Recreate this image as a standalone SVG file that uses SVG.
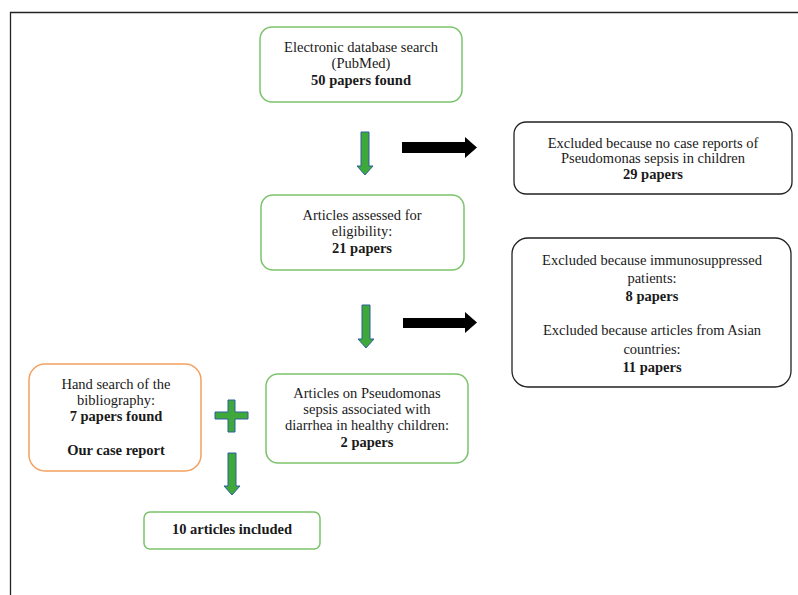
<svg xmlns="http://www.w3.org/2000/svg" width="798" height="595" viewBox="0 0 798 595">
<style>
text{font-family:"Liberation Serif","Times New Roman",serif;font-size:14.5px;fill:#1a1a1a;text-anchor:middle}
.b{font-weight:bold}
.g{fill:#fff;stroke:#7ac36a;stroke-width:1.5}
.o{fill:#fff;stroke:#f4a060;stroke-width:1.5}
.k{fill:#fff;stroke:#222;stroke-width:1.3}
.ga{fill:#3ea83a;stroke:#2e5f9e;stroke-width:1}
.ba{fill:#000}
</style>
<rect width="798" height="595" fill="#fff"/>
<path d="M10.5 595 V12.5 H798" fill="none" stroke="#222" stroke-width="1.3"/>
<g id="n1"><rect class="g" x="260" y="27" width="202" height="75" rx="12"/>
<text x="361" y="52">Electronic database search</text><text x="361" y="68">(PubMed)</text><text class="b" x="361" y="85">50 papers found</text></g>
<g id="n2"><rect class="k" x="514" y="122" width="278" height="72" rx="12"/>
<text x="653" y="148">Excluded because no case reports of</text><text x="653" y="163">Pseudomonas sepsis in children</text><text class="b" x="653" y="179">29 papers</text></g>
<g id="n3"><rect class="g" x="261" y="195" width="203" height="75" rx="12"/>
<text x="362" y="220">Articles assessed for</text><text x="362" y="236">eligibility:</text><text class="b" x="362" y="253">21 papers</text></g>
<g id="n4"><rect class="k" x="512" y="238" width="279" height="149" rx="16"/>
<text x="652" y="265">Excluded because immunosuppressed</text><text x="652" y="283">patients:</text><text class="b" x="652" y="301">8 papers</text>
<text x="652" y="335">Excluded because articles from Asian</text><text x="652" y="354">countries:</text><text class="b" x="652" y="372">11 papers</text></g>
<g id="n5"><rect class="o" x="29" y="364" width="172" height="107" rx="16"/>
<text x="116" y="389">Hand search of the</text><text x="116" y="405">bibliography:</text><text class="b" x="116" y="421">7 papers found</text><text class="b" x="116" y="455">Our case report</text></g>
<g id="n6"><rect class="g" x="266" y="374" width="202" height="89" rx="12"/>
<text x="367" y="398">Articles on Pseudomonas</text><text x="367" y="414">sepsis associated with</text><text x="367" y="430">diarrhea in healthy children:</text><text class="b" x="367" y="447">2 papers</text></g>
<g id="n7"><rect class="g" x="144" y="512" width="176" height="37" rx="6"/>
<text class="b" x="232" y="534">10 articles included</text></g>
<g id="connectors">
<path class="ga" d="M361 132 H369 V166 H373 L365 175 L357 166 H361 Z"/>
<path class="ga" d="M362 305 H370 V339 H374 L366 348 L358 339 H362 Z"/>
<path class="ga" d="M228 453 H236 V486 H240 L232 495 L224 486 H228 Z"/>
<path class="ga" d="M228 400 H235 V412 H248 V419 H235 V432 H228 V419 H215 V412 H228 Z"/>
<path class="ba" d="M402 142 H465 V137 L477 147.5 L465 158 V153 H402 Z"/>
<path class="ba" d="M403 318 H465 V312 L477 322.5 L465 333 V328 H403 Z"/>
</g>
</svg>
